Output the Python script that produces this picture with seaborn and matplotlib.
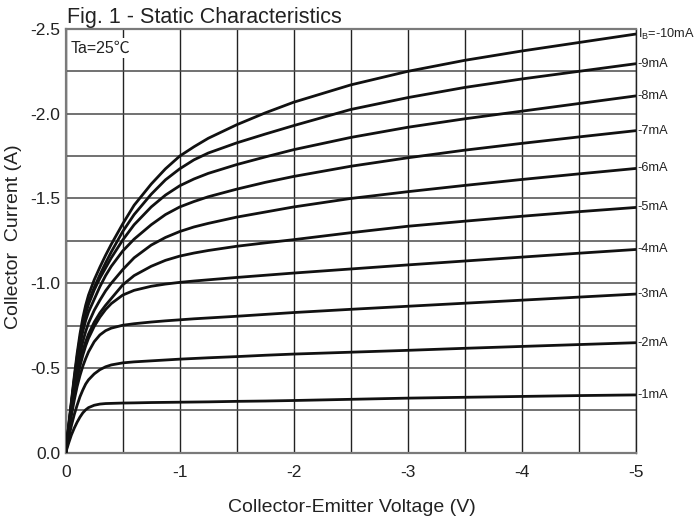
import numpy as np
import pandas as pd
import matplotlib
matplotlib.use("Agg")
import matplotlib.pyplot as plt
from matplotlib.ticker import MultipleLocator, FixedLocator
import seaborn as sns

# Collector-emitter voltage magnitude (V) at the read points (axis shows negatives)
voltage = [0, 0.025, 0.05, 0.075, 0.1, 0.125, 0.15, 0.175, 0.2, 0.25, 0.3, 0.35, 0.4,
           0.5, 0.6, 0.75, 0.875, 1.0, 1.125, 1.25, 1.5, 1.75, 2.0, 2.5, 3.0, 3.5,
           4.0, 4.5, 5.0]

# Collector current magnitude (A) per base current (axis shows negatives)
ib_labels = ["-1mA", "-2mA", "-3mA", "-4mA", "-5mA", "-6mA", "-7mA", "-8mA", "-9mA", "-10mA"]
ic_1mA = [0, .055, .105, .145, .18, .21, .235, .253, .266, .28, .287, .29, .291, .293, .294,
          .296, .297, .298, .299, .30, .303, .305, .308, .315, .322, .327, .332, .337, .341]
ic_2mA = [0, .085, .16, .225, .28, .33, .37, .405, .43, .465, .49, .507, .518, .53, .536,
          .542, .547, .552, .556, .56, .567, .575, .582, .593, .604, .616, .627, .638, .649]
ic_3mA = [0, .115, .22, .31, .39, .455, .51, .555, .595, .655, .695, .72, .735, .752, .761,
          .771, .778, .784, .79, .795, .805, .816, .827, .846, .864, .882, .90, .918, .936]
ic_4mA = [0, .125, .24, .345, .435, .51, .575, .63, .675, .745, .80, .845, .88, .93, .958,
          .982, .995, 1.005, 1.013, 1.02, 1.034, 1.047, 1.06, 1.084, 1.108, 1.131, 1.154,
          1.177, 1.199]
ic_5mA = [0, .13, .25, .36, .455, .535, .60, .655, .70, .77, .825, .87, .91, .99, 1.045,
          1.10, 1.135, 1.16, 1.178, 1.193, 1.218, 1.238, 1.257, 1.298, 1.336, 1.366, 1.395,
          1.422, 1.447]
ic_6mA = [0, .135, .265, .385, .49, .58, .655, .715, .765, .84, .90, .955, 1.0, 1.08, 1.15,
          1.225, 1.27, 1.305, 1.332, 1.353, 1.39, 1.42, 1.45, 1.50, 1.54, 1.577, 1.612,
          1.645, 1.677]
ic_7mA = [0, .14, .28, .415, .535, .635, .715, .78, .83, .905, .98, 1.045, 1.10, 1.19, 1.26,
          1.345, 1.405, 1.45, 1.482, 1.51, 1.555, 1.595, 1.63, 1.69, 1.74, 1.785, 1.825,
          1.863, 1.90]
ic_8mA = [0, .145, .285, .42, .545, .66, .75, .82, .875, .96, 1.03, 1.09, 1.15, 1.255, 1.345,
          1.45, 1.52, 1.575, 1.615, 1.648, 1.70, 1.745, 1.788, 1.86, 1.92, 1.97, 2.015,
          2.06, 2.105]
ic_9mA = [0, .15, .295, .435, .565, .675, .765, .835, .89, .975, 1.05, 1.12, 1.185, 1.305,
          1.405, 1.525, 1.61, 1.675, 1.728, 1.768, 1.828, 1.88, 1.93, 2.025, 2.095, 2.155,
          2.205, 2.25, 2.295]
ic_10mA = [0, .155, .305, .45, .585, .70, .795, .87, .93, 1.02, 1.095, 1.165, 1.23, 1.35,
           1.46, 1.585, 1.675, 1.75, 1.805, 1.855, 1.935, 2.005, 2.068, 2.17, 2.25, 2.315,
           2.37, 2.42, 2.47]

curves = [ic_1mA, ic_2mA, ic_3mA, ic_4mA, ic_5mA, ic_6mA, ic_7mA, ic_8mA, ic_9mA, ic_10mA]

x_ticks = [0, 1, 2, 3, 4, 5]
x_ticklabels = ["0", "-1", "-2", "-3", "-4", "-5"]
y_ticks = [0, 0.5, 1.0, 1.5, 2.0, 2.5]
y_ticklabels = ["0.0", "-0.5", "-1.0", "-1.5", "-2.0", "-2.5"]

rows = []
for lab, vals in zip(ib_labels, curves):
    for v, i in zip(voltage, vals):
        rows.append({"V": v, "I": i, "Ib": lab})
df = pd.DataFrame(rows)

sns.set_style("white")
plt.rcParams["font.family"] = ["Liberation Sans", "DejaVu Sans"]
plt.rcParams["axes.unicode_minus"] = False

fig = plt.figure(figsize=(6.99, 5.25), dpi=100)
ax = fig.add_axes([0.094, 0.1377, 0.8155, 0.8071])

sns.lineplot(data=df, x="V", y="I", hue="Ib", palette=["#111111"] * len(ib_labels),
             estimator=None, sort=False, linewidth=2.0, legend=False, ax=ax,
             solid_joinstyle="round", solid_capstyle="round", zorder=3)

ax.set_xlim(0, 5)
ax.set_ylim(0, 2.5)
ax.xaxis.set_major_locator(FixedLocator(x_ticks))
ax.set_xticklabels(x_ticklabels)
ax.xaxis.set_minor_locator(MultipleLocator(0.5))
ax.yaxis.set_major_locator(FixedLocator(y_ticks))
ax.set_yticklabels(y_ticklabels)
ax.yaxis.set_minor_locator(MultipleLocator(0.25))

ax.xaxis.grid(True, which="both", color="#222222", linewidth=1.0, zorder=1)
ax.yaxis.grid(True, which="both", color="#4a4a4a", linewidth=1.1, zorder=1)
ax.set_axisbelow(True)

ax.tick_params(axis="both", which="both", length=0, labelsize=12.5, colors="#222222")
ax.tick_params(axis="x", pad=9)
ax.tick_params(axis="y", pad=4)

for side in ["left", "top", "bottom"]:
    ax.spines[side].set_color("#7a7a7a")
    ax.spines[side].set_linewidth(1.6)
ax.spines["right"].set_color("#222222")
ax.spines["right"].set_linewidth(1.0)

ax.set_xlabel("Collector-Emitter Voltage (V)", fontsize=14, color="#222222")
ax.set_ylabel("Collector  Current (A)", fontsize=14, color="#222222")
ax.xaxis.set_label_coords(0.502, -0.13)
ax.xaxis.label.set_va("center")
ax.yaxis.set_label_coords(-0.092, 0.51)
ax.yaxis.label.set_va("center")

# right-side curve labels
for lab, vals in zip(ib_labels, curves):
    txt = r"I$_\mathregular{B}$=" + lab if lab == "-10mA" else lab
    ax.annotate(txt, xy=(voltage[-1], vals[-1]), xytext=(1.5, 0), textcoords="offset points",
                ha="left", va="center", fontsize=9.2, color="#222222", annotation_clip=False)

ax.text(0.008, 0.955, "Ta=25℃", transform=ax.transAxes, ha="left", va="center",
        fontsize=11.5, color="#222222", family=["Liberation Sans", "Noto Sans CJK SC"],
        bbox=dict(facecolor="white", edgecolor="none", pad=1.5), zorder=4)

fig.text(0.096, 0.947, "Fig. 1 - Static Characteristics", ha="left", va="bottom",
         fontsize=15.5, color="#222222")

fig.savefig("out.png", dpi=100)
